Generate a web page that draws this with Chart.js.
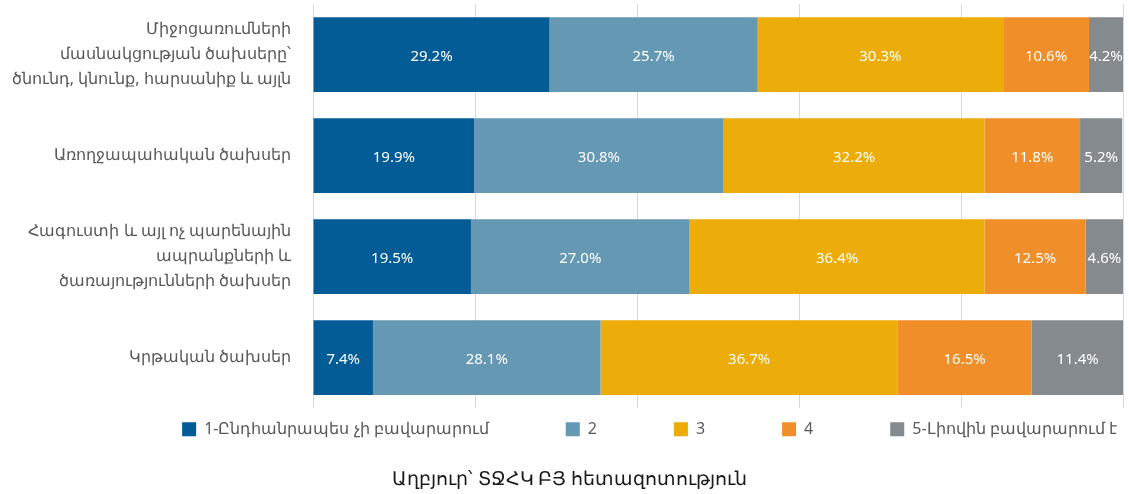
<!DOCTYPE html>
<html>
<head>
<meta charset="utf-8">
<script src="https://cdn.jsdelivr.net/npm/chart.js@4"></script>
<style>
  body { margin: 0; background: #fff; }
  #wrap { width: 1129px; height: 494px; position: relative; }
</style>
</head>
<body>
<div id="wrap"><canvas id="myChart"></canvas></div>
<script>
//data
const categories = [
  ["Միջոցառումների", "մասնակցության ծախսերը՝", "ծնունդ, կնունք, հարսանիք և այլն"],
  "Առողջապահական ծախսեր",
  ["Հագուստի և այլ ոչ պարենային", "ապրանքների և", "ծառայությունների ծախսեր"],
  "Կրթական ծախսեր"
];
const seriesNames = ["1-Ընդհանրապես չի բավարարում", "2", "3", "4", "5-Լիովին բավարարում է"];
const level1 = [29.2, 19.9, 19.5, 7.4];
const level2 = [25.7, 30.8, 27.0, 28.1];
const level3 = [30.3, 32.2, 36.4, 36.7];
const level4 = [10.6, 11.8, 12.5, 16.5];
const level5 = [4.2, 5.2, 4.6, 11.4];
const colors = ["#045c96", "#6598b3", "#ecad0a", "#f08f2a", "#858a8f"];
const sourceText = "Աղբյուր՝ ՏՋՀԿ ԲՅ հետազոտություն";

const allValues = [level1, level2, level3, level4, level5];

// legend spacing (the legend uses the same padding above its row)
const legendPad = 77;
const legendShift = 88;
const legendPullUp = 64;
const titleShift = 8;

const data = {
  labels: categories,
  datasets: allValues.map((vals, i) => ({
    label: seriesNames[i],
    data: vals,
    backgroundColor: colors[i],
    borderWidth: 0,
    categoryPercentage: 1.0,
    barPercentage: 0.74,
  })),
};

// white value labels inside the segments + legend/title nudge
const segmentLabels = {
  id: "segmentLabels",
  afterLayout(chart) {
    if (chart.legend) {
      chart.legend.left += legendShift;
      chart.legend.right += legendShift;
    }
    if (chart.titleBlock) {
      chart.titleBlock.left += titleShift;
      chart.titleBlock.right += titleShift;
    }
  },
  afterDatasetsDraw(chart) {
    const ctx = chart.ctx;
    ctx.save();
    ctx.fillStyle = "#ffffff";
    ctx.font = "15px 'Noto Sans'";
    ctx.textAlign = "center";
    ctx.textBaseline = "middle";
    chart.data.datasets.forEach((ds, i) => {
      const meta = chart.getDatasetMeta(i);
      meta.data.forEach((bar, j) => {
        const cx = (bar.x + bar.base) / 2;
        ctx.fillText(ds.data[j].toFixed(1) + "%", cx, bar.y + 2);
      });
    });
    ctx.restore();
  },
};

const config = {
  type: "bar",
  data: data,
  options: {
    indexAxis: "y",
    responsive: true,
    maintainAspectRatio: false,
    animation: false,
    layout: { padding: { top: 4, right: 6, left: 0, bottom: 2 - legendPullUp } },
    scales: {
      x: {
        stacked: true,
        min: 0,
        max: 100,
        ticks: { display: false, stepSize: 20 },
        grid: { color: "#d9d9d9", drawTicks: false },
        border: { display: false },
        afterFit(scale) {
          // pull the legend row up under the plot
          scale.height = -legendPullUp;
        },
      },
      y: {
        stacked: true,
        grid: { display: false, drawTicks: false },
        border: { display: false },
        ticks: {
          padding: 22,
          color: "#595959",
          font: { family: "'Noto Sans'", size: 16, lineHeight: 1.55 },
        },
        afterFit(scale) {
          // keep the multi-line labels from pushing the plot down
          scale.paddingTop = 0;
          scale.paddingBottom = 0;
          scale.width = 313;
        },
      },
    },
    plugins: {
      legend: {
        display: true,
        position: "bottom",
        labels: {
          boxWidth: 14,
          boxHeight: 14,
          padding: legendPad,
          color: "#595959",
          font: { family: "'Noto Sans'", size: 16 },
        },
      },
      title: {
        display: true,
        position: "bottom",
        text: sourceText,
        color: "#1a1a1a",
        font: { family: "'Noto Sans'", size: 19, weight: "normal" },
        padding: { top: 21, bottom: 1 },
      },
      tooltip: { enabled: false },
    },
  },
  plugins: [segmentLabels],
};

const myChart = new Chart(document.getElementById("myChart"), config);
</script>
</body>
</html>
